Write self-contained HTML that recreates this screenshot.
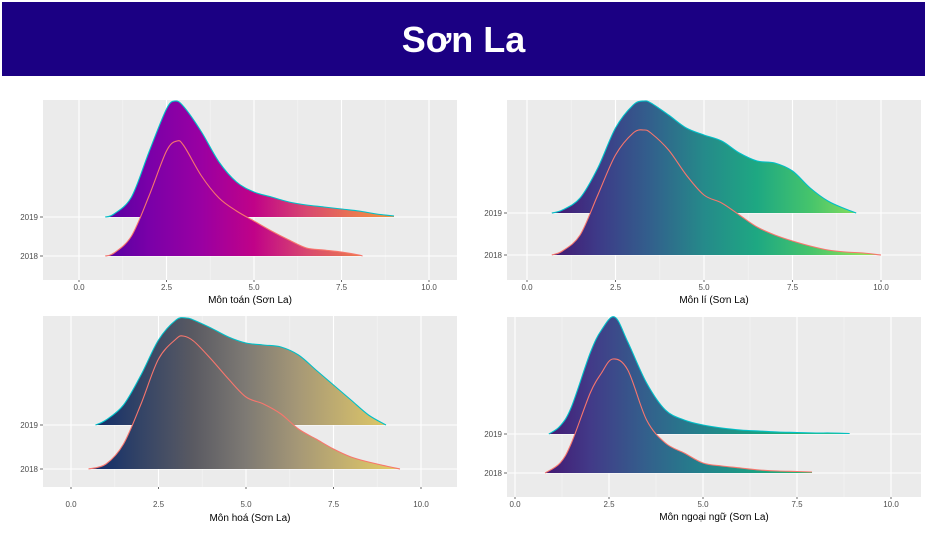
<!DOCTYPE html>
<html><head><meta charset="utf-8">
<style>
body{margin:0;background:#fff;width:927px;height:550px;overflow:hidden;font-family:"Liberation Sans",sans-serif}
#hdr{position:absolute;left:2px;top:2px;width:923px;height:74px;background:#1b0083;color:#fff;font-weight:bold;font-size:36px;text-align:center;line-height:76px}
svg{position:absolute;left:0;top:0}
</style></head><body>
<div id="hdr">Sơn La</div>
<svg id="c" width="927" height="550"></svg>
<script>
// Panel 1: Môn toán
const toanX19=[0.75,1,1.5,2,2.5,2.75,3,3.5,4,4.5,5,5.5,6,6.5,7,7.5,8,8.5,9];
const toanY19=[0,3,20,65,108,116,110,85,55,35,25,20,15,12,10,8,6,3,1];
const toanX18=[0.75,1,1.5,2,2.5,2.8,3,3.5,4,4.5,5,5.5,6,6.5,7,7.5,8,8.1];
const toanY18=[0,3,20,60,105,115,110,80,58,45,35,25,16,8,6,4,1,0];
// Panel 2: Môn lí
const liX19=[0.7,1,1.5,2,2.5,3,3.3,3.5,4,4.5,5,5.5,6,6.5,7,7.5,8,8.5,9,9.3];
const liY19=[0,3,15,45,85,108,112,110,98,85,78,72,60,52,50,42,25,12,4,0];
const liX18=[0.7,1,1.5,2,2.5,3,3.3,3.5,4,4.5,5,5.5,6,6.5,7,7.5,8,8.5,9,9.5,10];
const liY18=[0,4,20,60,100,122,125,122,105,80,60,52,40,28,20,14,9,5,3,2,0];
// Panel 3: Môn hoá
const hoaX19=[0.7,1,1.5,2,2.5,3,3.3,3.5,4,4.5,5,5.5,6,6.5,7,7.5,8,8.5,9];
const hoaY19=[0,5,20,50,85,105,107,105,97,88,82,80,78,70,55,40,25,10,0];
const hoaX18=[0.5,1,1.5,2,2.5,3,3.2,3.5,4,4.5,5,5.5,6,6.5,7,7.5,8,8.5,9,9.4];
const hoaY18=[0,5,25,65,110,130,133,128,110,90,72,65,55,40,30,20,12,7,3,0];
// Panel 4: Môn ngoại ngữ
const nnX19=[0.9,1.2,1.5,2,2.3,2.65,3,3.5,4,4.5,5,5.5,6,6.5,7,7.5,8,8.4,8.9];
const nnY19=[0,8,27,81,104,117,92,51,24,14,9,6,4,3,2,1.5,1,1,0.5];
const nnX18=[0.8,1.2,1.5,2,2.3,2.6,3,3.5,4,4.5,5,5.5,6,6.5,7,7.5,7.9];
const nnY18=[0,10,30,80,100,114,103,53,30,20,10,7,5,3,2,1.5,1];
const xTicks=[0,2.5,5,7.5,10];
const xTickLabels=["0.0","2.5","5.0","7.5","10.0"];
const rowLabels=["2019","2018"];

const NS="http://www.w3.org/2000/svg";
const svg=document.getElementById('c');
function mk(t,a,p){const e=document.createElementNS(NS,t);for(const k in a)e.setAttribute(k,a[k]);(p||svg).appendChild(e);return e;}
const panels=[
 {id:"toan",title:"Môn toán (Sơn La)",bx:43,by:100,bw:414,bh:180,x0:79,x10:429,b19:217,b18:256,lab:290,tit:303,
  s19:[toanX19,toanY19],s18:[toanX18,toanY18],cols:["#4d02a0","#7a00a8","#9a00a2","#c00288","#d84870","#ec7a4e","#f5a030"]},
 {id:"li",title:"Môn lí (Sơn La)",bx:507,by:100,bw:414,bh:180,x0:527,x10:881,b19:213,b18:255,lab:290,tit:303,
  s19:[liX19,liY19],s18:[liX18,liY18],cols:["#45126e","#3d3a88","#32608c","#258a8a","#1ea882","#45c46c","#8ee05a"]},
 {id:"hoa",title:"Môn hoá (Sơn La)",bx:43,by:316,bw:414,bh:171,x0:71,x10:421,b19:425,b18:469,lab:507,tit:521,
  s19:[hoaX19,hoaY19],s18:[hoaX18,hoaY18],cols:["#0c2a6a","#344466","#5a5a62","#7e7a74","#a69876","#c8b46e","#e8d060"]},
 {id:"nn",title:"Môn ngoại ngữ (Sơn La)",bx:507,by:317,bw:414,bh:180,x0:515,x10:891,b19:434,b18:473,lab:507,tit:520,
  s19:[nnX19,nnY19],s18:[nnX18,nnY18],cols:["#44106e","#423a88","#33608c","#23828c","#1aa282","#30bc70","#60d05a"]}
];
function smooth(pts){let d="M"+pts[0][0]+","+pts[0][1];
 for(let i=0;i<pts.length-1;i++){const p0=pts[i-1]||pts[i],p1=pts[i],p2=pts[i+1],p3=pts[i+2]||p2;
  const c1=[p1[0]+(p2[0]-p0[0])/6,p1[1]+(p2[1]-p0[1])/6],c2=[p2[0]-(p3[0]-p1[0])/6,p2[1]-(p3[1]-p1[1])/6];
  d+=" C"+c1[0].toFixed(1)+","+c1[1].toFixed(1)+" "+c2[0].toFixed(1)+","+c2[1].toFixed(1)+" "+p2[0].toFixed(1)+","+p2[1].toFixed(1);}
 return d;}
const defs=mk('defs',{});
panels.forEach(P=>{
 const g=mk('g',{});
 
 
 const xs=v=>P.x0+(P.x10-P.x0)*v/10;
 const bg=mk('rect',{x:P.bx,y:P.by,width:P.bw,height:P.bh,fill:"#ebebeb"},g);
 
 
 xTicks.forEach((t,i)=>{
  if(i<xTicks.length-1){mk('line',{x1:xs(t+1.25),x2:xs(t+1.25),y1:P.by,y2:P.by+P.bh,stroke:"#f4f4f4","stroke-width":0.6},g);}
  mk('line',{x1:xs(t),x2:xs(t),y1:P.by,y2:P.by+P.bh,stroke:"#fff","stroke-width":1.1},g);
  mk('line',{x1:xs(t),x2:xs(t),y1:P.by+P.bh,y2:P.by+P.bh+2,stroke:"#444","stroke-width":0.8},g);
 });
 xTicks.forEach((t,i)=>{
  const tl=mk('text',{x:xs(t),y:P.lab,"font-size":8,fill:"#4d4d4d","text-anchor":"middle"},g);
  tl.textContent=xTickLabels[i];
  
  
 });
 [P.b19,P.b18].forEach((b,i)=>{
  mk('line',{x1:P.bx,x2:P.bx+P.bw,y1:b,y2:b,stroke:"#fff","stroke-width":1.1},g);
  mk('line',{x1:P.bx-3,x2:P.bx,y1:b,y2:b,stroke:"#444","stroke-width":0.8},g);
  const yl=mk('text',{x:P.bx-5,y:b+3,"font-size":8,fill:"#4d4d4d","text-anchor":"end"},g);
  yl.textContent=rowLabels[i];
  
  
 });
 const gr=mk('linearGradient',{id:"gr_"+P.id,gradientUnits:"userSpaceOnUse",x1:xs(0.5),x2:xs(9.5),y1:0,y2:0},defs);
 P.cols.forEach((c,i)=>mk('stop',{offset:(i/(P.cols.length-1)),"stop-color":c},gr));
 [[P.s19,P.b19,"#00c0c8","2019"],[P.s18,P.b18,"#f8766d","2018"]].forEach(([s,b,sc,yr])=>{
  const pts=s[0].map((x,i)=>[xs(x),b-s[1][i]]);
  const d=smooth(pts);
  const f=mk('path',{d:d+" L"+pts[pts.length-1][0]+","+b+" L"+pts[0][0]+","+b+" Z",fill:"url(#gr_"+P.id+")"},g);
  
  
  mk('path',{d:d,fill:"none",stroke:sc,"stroke-width":1.1},g);
 });
 const tt=mk('text',{x:(P.bx+P.bw/2),y:P.tit,"font-size":10,fill:"#000","text-anchor":"middle"},g);
 tt.textContent=P.title;
 
 
});
</script>
</body></html>
